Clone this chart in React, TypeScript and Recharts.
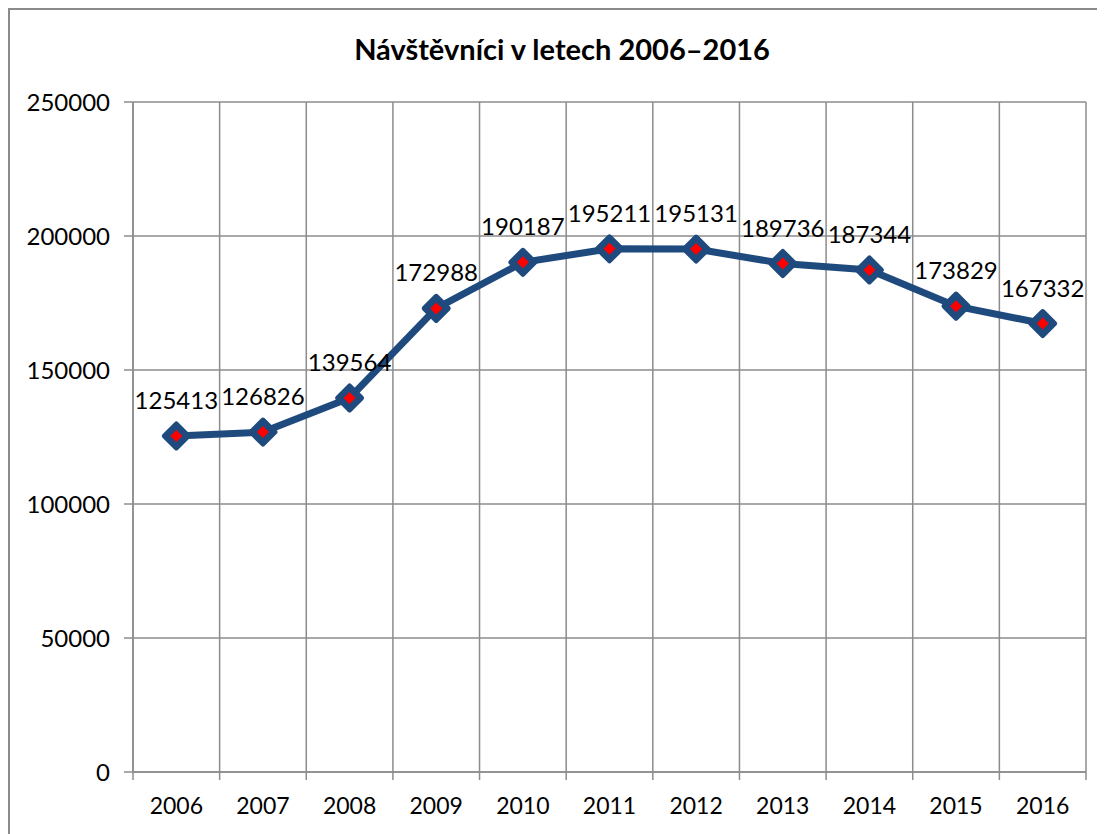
import React from "react";
import {
    CartesianGrid,
    ComposedChart,
    LabelList,
    Line,
    XAxis,
    YAxis,
} from "recharts";

const years = ["2006", "2007", "2008", "2009", "2010", "2011", "2012", "2013", "2014", "2015", "2016"];
const visitors = [125413, 126826, 139564, 172988, 190187, 195211, 195131, 189736, 187344, 173829, 167332];
const yTicks = [0, 50000, 100000, 150000, 200000, 250000];

const data = years.map((year, i) => ({ year, visitors: visitors[i] }));

const FONT = "Lato, 'Open Sans', sans-serif";
const GRID = "#8c8c8c";
const LINE = "#1f4a7e";

// vertical grid lines sit on the category boundaries, not the centres
function boundaryLines({ xAxis, offset }: any) {
    const scale = xAxis?.scale;
    if (typeof scale === "function" && typeof scale.bandwidth === "function") {
        const bw = scale.bandwidth();
        const starts = years.map((y) => scale(y));
        return [...starts, starts[starts.length - 1] + bw];
    }
    const step = offset.width / years.length;
    return [...years.map((_, i) => offset.left + i * step), offset.left + offset.width];
}

function DiamondDot(props: any) {
    const { cx, cy } = props;
    if (cx == null || cy == null) return null;
    const outer = 12;
    const inner = 6;
    return (
        <g>
            <polygon
                points={`${cx},${cy - outer} ${cx + outer},${cy} ${cx},${cy + outer} ${cx - outer},${cy}`}
                fill={LINE}
                stroke={LINE}
                strokeWidth={5}
                strokeLinejoin="round"
            />
            <polygon
                points={`${cx},${cy - inner} ${cx + inner},${cy} ${cx},${cy + inner} ${cx - inner},${cy}`}
                fill="#ff0000"
            />
        </g>
    );
}

function YearTick(props: any) {
    const { x, y, payload, index } = props;
    const half = payload?.offset ?? 953 / years.length / 2;
    return (
        <g>
            <line x1={x - half} x2={x - half} y1={y} y2={y + 8} stroke={GRID} strokeWidth={1.5} />
            {index === years.length - 1 && (
                <line x1={x + half} x2={x + half} y1={y} y2={y + 8} stroke={GRID} strokeWidth={1.5} />
            )}
            <text x={x} y={y + 42} textAnchor="middle" fontSize={23} fontFamily={FONT} fill="#000">
                {payload.value}
            </text>
        </g>
    );
}

export default function App() {
    return (
        <div
            style={{
                position: "relative",
                width: 1095,
                height: 824,
                borderTop: "2px solid #8a8a8a",
                borderLeft: "2px solid #8a8a8a",
                background: "#fff",
                overflow: "hidden",
            }}
        >
            <div
                style={{
                    position: "absolute",
                    left: 302,
                    top: 21,
                    width: 500,
                    textAlign: "center",
                    fontFamily: FONT,
                    fontWeight: 700,
                    fontSize: 29,
                    color: "#000",
                    whiteSpace: "nowrap",
                }}
            >
                Návštěvníci v letech 2006–2016
            </div>
            <ComposedChart
                width={1095}
                height={824}
                data={data}
                margin={{ top: 92, right: 19, left: 0, bottom: 0 }}
            >
                <CartesianGrid
                    stroke={GRID}
                    strokeWidth={1.5}
                    vertical
                    horizontal
                    verticalCoordinatesGenerator={boundaryLines}
                />
                <XAxis
                    dataKey="year"
                    scale="band"
                    height={62}
                    tickLine={false}
                    tickSize={0}
                    tickMargin={0}
                    axisLine={{ stroke: GRID, strokeWidth: 1.5 }}
                    tick={<YearTick />}
                    interval={0}
                />
                <YAxis
                    width={123}
                    domain={[0, 250000]}
                    ticks={yTicks}
                    tickSize={9}
                    tickMargin={14}
                    tickLine={{ stroke: GRID, strokeWidth: 1.5 }}
                    axisLine={{ stroke: GRID, strokeWidth: 1.5 }}
                    tick={{ fontSize: 24, fontFamily: FONT, fill: "#000" }}
                />
                <Line
                    type="linear"
                    dataKey="visitors"
                    stroke={LINE}
                    strokeWidth={7}
                    dot={<DiamondDot />}
                    activeDot={false}
                    isAnimationActive={false}
                >
                    <LabelList
                        dataKey="visitors"
                        position="top"
                        offset={27}
                        fontSize={24}
                        fontFamily={FONT}
                        fill="#000"
                    />
                </Line>
            </ComposedChart>
        </div>
    );
}
